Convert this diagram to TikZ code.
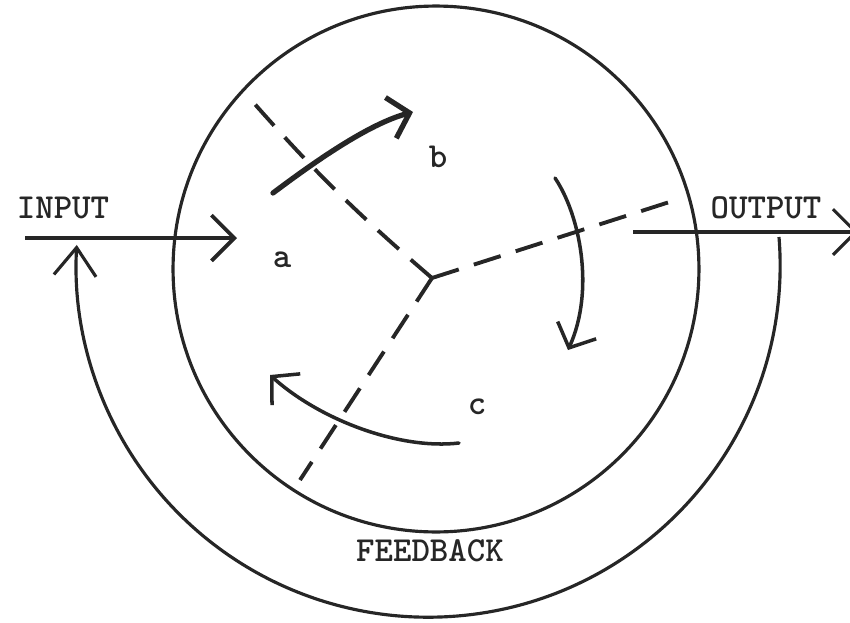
\documentclass[tikz,border=0pt]{standalone}
\usetikzlibrary{arrows.meta}

\begin{document}
\begin{tikzpicture}[
  x=0.02cm, y=-0.02cm,
  font=\ttfamily\bfseries\fontsize{20}{22}\selectfont,
  ink/.style={draw=black!85, line width=1.8pt},
  flow/.style={black!85, line width=2.2pt, -{Straight Barb[length=13pt,width=26pt]}},
  turn/.style={black!85, line width=2pt, line cap=round, -{Straight Barb[length=11pt,width=24pt]}},
  part/.style={black!85, line width=2.2pt, dash pattern=on 16pt off 9pt},
  lbl/.style={text=black!85, inner sep=1pt}
]
\clip (0,0) rectangle (850,623);
% System boundary
\node[ink, circle, minimum size=10.52cm, inner sep=0pt] (sys) at (436,269) {};
% Texts
\node[lbl] (inlbl) at (63,208) {INPUT};
\node[lbl] (outlbl) at (766,208) {OUTPUT};
\node[lbl] (fblbl) at (430,551) {FEEDBACK};
\node[lbl] (a) at (282,260) {a};
\node[lbl] (b) at (438,157) {b};
\node[lbl] (c) at (477,407) {c};
% Partition of the system
\coordinate (hub) at (432,278);
\coordinate (cutA) at (245,93);
\coordinate (cutB) at (682,198);
\coordinate (cutC) at (300,480);
\draw[part] (hub) to[bend left=4] (cutA);
\draw[part] (hub) -- (cutB);
\draw[part] (hub) -- (cutC);
% Circulation inside
\draw[turn, line width=3pt] (273,193) .. controls (313,163) and (368,124) .. (413,112);
\draw[turn] (555,178) .. controls (580,215) and (595,290) .. (568,350);
\draw[turn] (459,443) .. controls (400,450) and (320,420) .. (270,375);
% Input, output and feedback
\coordinate (instart) at (25,238);
\coordinate (inend) at (237,238);
\coordinate (outstart) at (633,232);
\coordinate (outend) at (858,232);
\coordinate (fbstart) at (779,237);
\draw[flow] (instart) -- (inend);
\draw[flow, line width=1.8pt] (outstart) -- (outend);
\draw[ink, -{Straight Barb[length=16pt,width=24pt]}] (fbstart) arc[start angle=-4.6, end angle=183.3, radius=352];
\end{tikzpicture}
\end{document}
